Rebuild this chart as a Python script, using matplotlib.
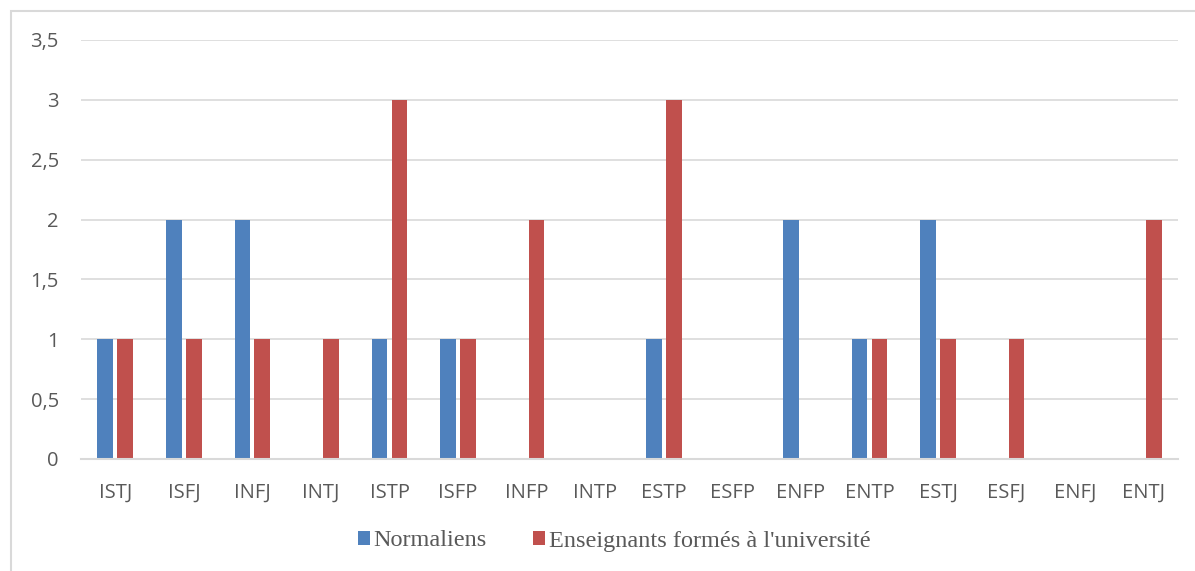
import numpy as np
import matplotlib.pyplot as plt
from matplotlib.patches import Rectangle
from matplotlib.ticker import FuncFormatter

types = ["ISTJ", "ISFJ", "INFJ", "INTJ", "ISTP", "ISFP", "INFP", "INTP",
         "ESTP", "ESFP", "ENFP", "ENTP", "ESTJ", "ESFJ", "ENFJ", "ENTJ"]
normaliens = [1, 2, 2, 0, 1, 1, 0, 0, 1, 0, 2, 1, 2, 0, 0, 0]
universite = [1, 1, 1, 1, 3, 1, 2, 0, 3, 0, 0, 1, 1, 1, 0, 2]
yticks = [0, 0.5, 1, 1.5, 2, 2.5, 3, 3.5]

blue = "#4F81BD"
red = "#C0504D"
grid = "#D9D9D9"
txt = "#595959"

fig = plt.figure(figsize=(11.95, 5.71), dpi=100)
# chart area border
fig.patches.append(Rectangle((11 / 1195, -0.05), 1.2, 1 - 11 / 571 + 0.05,
                             transform=fig.transFigure, fill=False,
                             edgecolor=grid, linewidth=1.5))

ax = fig.add_axes([81 / 1195, 1 - 459 / 571, (1178 - 81) / 1195, (459 - 40) / 571])
x = np.arange(len(types))
w = 0.23
ax.bar(x - w / 2 - 0.03, normaliens, w, color=blue, label="Normaliens")
ax.bar(x + w / 2 + 0.03, universite, w, color=red,
       label="Enseignants formés à l'université")

ax.set_xlim(-0.5, len(types) - 0.5)
ax.set_ylim(0, 3.5)
ax.set_yticks(yticks)
ax.yaxis.set_major_formatter(FuncFormatter(lambda v, p: f"{v:g}".replace(".", ",")))
ax.set_xticks(x)
ax.set_xticklabels(types)
ax.grid(axis="y", color=grid, linewidth=1.2)
ax.set_axisbelow(True)
for s in ["top", "right", "left"]:
    ax.spines[s].set_visible(False)
ax.spines["bottom"].set_color(grid)
ax.spines["bottom"].set_linewidth(1.5)
ax.tick_params(length=0, labelcolor=txt, labelsize=14.5)
ax.tick_params(axis="x", pad=17)
ax.tick_params(axis="y", pad=16)
for lab in ax.get_xticklabels() + ax.get_yticklabels():
    lab.set_family("Open Sans")

fig.legend(loc="center", bbox_to_anchor=(614 / 1195, 1 - 541 / 571), ncol=2,
           frameon=False, handlelength=0.5, handleheight=0.5, handletextpad=0.15,
           columnspacing=1.9, prop={"family": "Liberation Serif", "size": 17.5},
           labelcolor=txt)

fig.savefig("out.png", dpi=100)
